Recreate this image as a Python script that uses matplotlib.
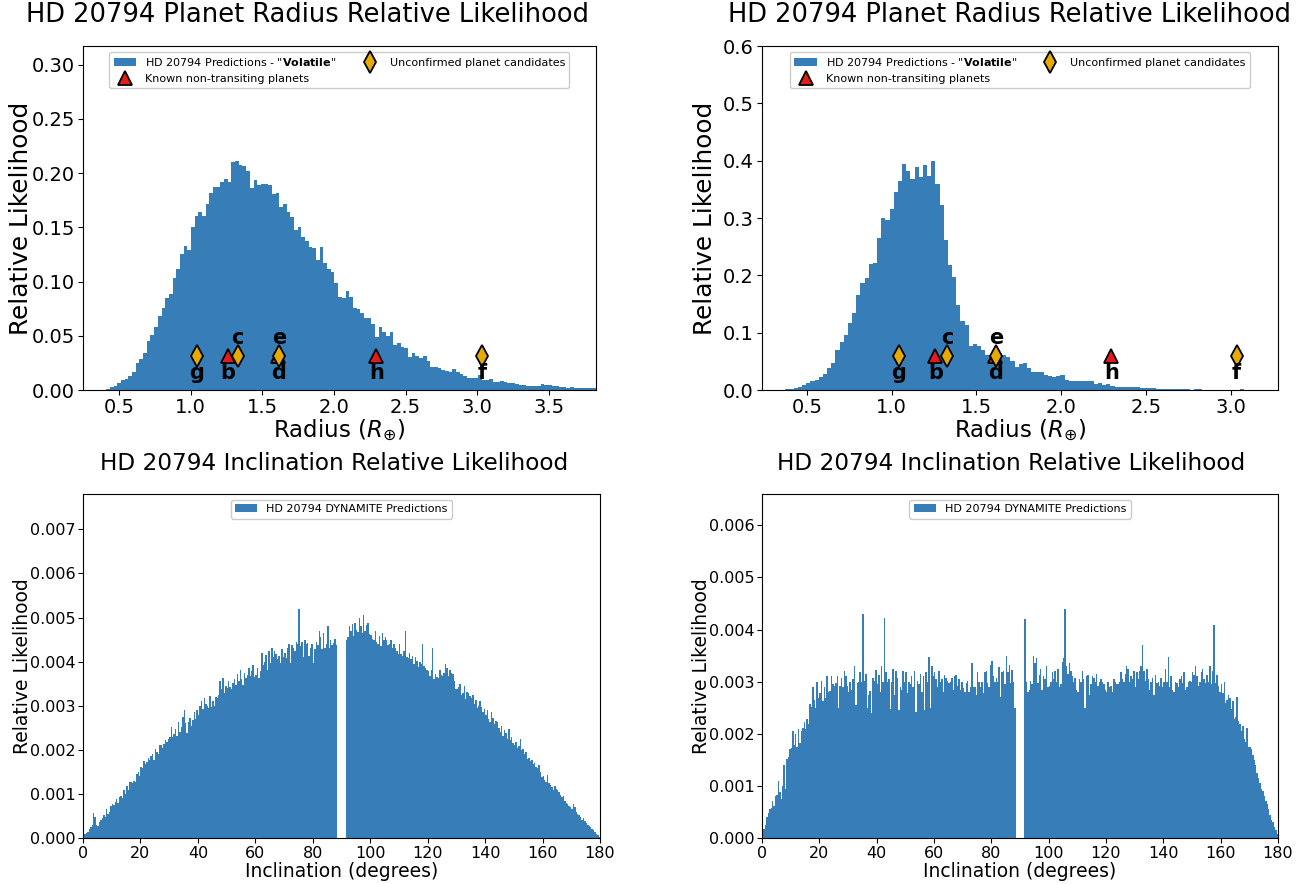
import numpy as np
import matplotlib
matplotlib.use("Agg")
import matplotlib.pyplot as plt

# ---------------- data ----------------
# Radius histogram, "Volatile" model (left panel): 134 bins
radius_left_start = 0.385
radius_left_width = 0.0257
radius_left_vals = [
    0.0004, 0.001, 0.0025, 0.004, 0.0061, 0.0092, 0.0099, 0.013, 0.017, 0.0246,
    0.029, 0.034, 0.045, 0.0507, 0.058, 0.0685, 0.0753, 0.0845, 0.089, 0.103,
    0.112, 0.125, 0.133, 0.129, 0.1506, 0.1607, 0.164, 0.1607, 0.172, 0.182,
    0.1875, 0.1875, 0.192, 0.195, 0.192, 0.2105, 0.2115, 0.2075, 0.207, 0.202,
    0.186, 0.1936, 0.189, 0.19, 0.19, 0.189, 0.181, 0.182, 0.169, 0.172,
    0.164, 0.160, 0.1475, 0.15, 0.141, 0.137, 0.1316, 0.131, 0.12, 0.132,
    0.117, 0.112, 0.109, 0.099, 0.086, 0.0845, 0.0916, 0.0855, 0.0754, 0.0744,
    0.0707, 0.0661, 0.0661, 0.0609, 0.0485, 0.0584, 0.0532, 0.0498, 0.0538, 0.0415,
    0.0436, 0.0399, 0.0384, 0.0307, 0.0338, 0.0313, 0.0292, 0.0313, 0.027, 0.0215,
    0.0215, 0.0206, 0.0184, 0.0175, 0.0169, 0.019, 0.0169, 0.0148, 0.0129, 0.0108,
    0.0108, 0.0108, 0.0138, 0.0092, 0.0092, 0.0101, 0.0077, 0.0077, 0.0086, 0.0077,
    0.0068, 0.0062, 0.006, 0.0046, 0.0046, 0.004, 0.004, 0.004, 0.0037, 0.0055,
    0.0046, 0.0043, 0.004, 0.0037, 0.0031, 0.0025, 0.0022, 0.0025, 0.0022, 0.0018,
    0.0018, 0.0015, 0.0015, 0.0015,
]

# Radius histogram (right panel): 111 bins
radius_right_start = 0.372
radius_right_width = 0.0246
radius_right_vals = [
    0.001, 0.002, 0.004, 0.006, 0.009, 0.013, 0.016, 0.018, 0.022, 0.028,
    0.038, 0.048, 0.070, 0.083, 0.096, 0.117, 0.134, 0.165, 0.186, 0.195,
    0.220, 0.222, 0.266, 0.300, 0.297, 0.316, 0.345, 0.364, 0.394, 0.382,
    0.368, 0.389, 0.372, 0.392, 0.374, 0.400, 0.359, 0.323, 0.262, 0.218,
    0.198, 0.149, 0.121, 0.113, 0.077, 0.080, 0.076, 0.069, 0.061, 0.057,
    0.064, 0.064, 0.061, 0.057, 0.051, 0.041, 0.045, 0.047, 0.038, 0.032,
    0.032, 0.032, 0.026, 0.024, 0.023, 0.024, 0.026, 0.017, 0.015, 0.016,
    0.015, 0.016, 0.015, 0.016, 0.010, 0.012, 0.009, 0.010, 0.007, 0.006,
    0.005, 0.006, 0.005, 0.006, 0.006, 0.004, 0.003, 0.0035, 0.003, 0.0023,
    0.0017, 0.0023, 0.0017, 0.0012, 0.0017, 0.0012, 0.0012, 0.0006, 0.0012, 0.0017,
    0.0006, 0.0006, 0.0006, 0.0006, 0.0, 0.0006, 0.0, 0.0006, 0.0, 0.0012,
    0.0006,
]

# Planets
known_names = ["b", "d", "h"]
known_radius = [1.258, 1.612, 2.296]
cand_names = ["g", "c", "e", "f"]
cand_radius = [1.041, 1.327, 1.618, 3.036]
labels_above = ["c", "e"]

# Inclination histograms: 0.5 degree bins, values in units of 1e-5
incl_bin_width = 0.5
incl_left_vals_e5 = [
    4, 9, 12, 14, 20, 25, 30, 56, 48, 30,
    28, 36, 42, 46, 52, 48, 65, 55, 60, 72,
    78, 74, 82, 88, 80, 92, 96, 90, 108, 100,
    118, 110, 126, 128, 125, 130, 127, 145, 150, 140,
    160, 158, 175, 168, 172, 182, 178, 186, 190, 176,
    202, 196, 190, 210, 212, 205, 214, 222, 218, 225,
    230, 252, 228, 236, 248, 232, 262, 240, 252, 275,
    290, 260, 238, 262, 272, 255, 268, 285, 270, 290,
    280, 300, 310, 292, 318, 304, 300, 295, 322, 298,
    310, 300, 320, 318, 325, 355, 338, 362, 330, 345,
    340, 355, 342, 338, 352, 360, 348, 372, 356, 380,
    360, 348, 375, 362, 370, 385, 368, 378, 392, 365,
    370, 385, 362, 378, 420, 392, 400, 415, 382, 425,
    398, 430, 410, 425, 418, 405, 412, 398, 428, 410,
    420, 408, 432, 440, 398, 438, 430, 425, 445, 440,
    520, 435, 445, 410, 448, 440, 442, 412, 432, 440,
    398, 428, 445, 438, 470, 455, 428, 465, 432, 440,
    480, 430, 450, 438, 442, 452, 438,
    0, 0, 0, 0, 0, 0,
    448, 455, 480, 470, 485, 458, 488,
    472, 468, 500, 480, 465, 505, 470, 482, 488, 462,
    460, 452, 448, 470, 445, 440, 458, 435, 465, 448,
    455, 448, 438, 440, 450, 432, 440, 430, 425, 418,
    440, 418, 412, 425, 470, 410, 408, 420, 405, 412,
    395, 410, 402, 388, 400, 395, 440, 390, 385, 380,
    378, 368, 380, 432, 360, 372, 365, 362, 382, 370,
    368, 375, 395, 385, 368, 380, 375, 372, 355, 338,
    338, 342, 350, 325, 328, 345, 315, 332, 328, 322,
    318, 325, 305, 312, 295, 300, 310, 298, 286, 292,
    280, 290, 270, 262, 285, 272, 258, 265, 262, 250,
    240, 255, 232, 245, 238, 225, 248, 222, 228, 215,
    212, 218, 205, 208, 225, 200, 202, 190, 195, 180,
    182, 175, 178, 168, 170, 162, 158, 165, 150, 138,
    140, 132, 128, 142, 125, 120, 115, 110, 118, 112,
    108, 105, 98, 92, 95, 85, 80, 78, 72, 70,
    65, 78, 70, 58, 55, 52, 48, 42, 45, 38,
    35, 30, 28, 25, 20, 18, 14, 10, 6, 3,
]
incl_right_vals_e5 = [
    5, 18, 25, 40, 48, 55, 58, 72, 62, 80,
    82, 110, 88, 75, 100, 140, 95, 152, 155, 170,
    172, 205, 178, 200, 175, 210, 182, 205, 212, 222,
    210, 228, 218, 258, 252, 290, 265, 250, 300, 268,
    278, 302, 262, 290, 268, 310, 280, 282, 310, 295,
    292, 298, 310, 250, 292, 308, 290, 320, 310, 292,
    280, 300, 285, 305, 330, 255, 298, 300, 318, 300,
    430, 302, 315, 250, 275, 282, 240, 308, 302, 322,
    296, 312, 280, 330, 300, 422, 318, 300, 305, 248,
    300, 325, 275, 320, 308, 245, 290, 285, 320, 300,
    318, 278, 300, 295, 310, 290, 320, 242, 302, 295,
    315, 280, 310, 245, 318, 300, 348, 250, 330, 310,
    318, 305, 290, 320, 300, 305, 280, 312, 308, 302,
    298, 300, 308, 285, 310, 312, 292, 305, 285, 300,
    288, 280, 298, 302, 280, 290, 335, 290, 290, 275,
    318, 300, 290, 300, 278, 318, 320, 298, 290, 332,
    340, 310, 300, 308, 300, 328, 270, 318, 320, 295,
    350, 318, 332, 298, 322, 300, 250,
    0, 0, 0, 0, 0, 0,
    420, 300, 280, 285, 302, 295, 350,
    335, 345, 298, 312, 325, 285, 310, 305, 330, 290,
    292, 300, 318, 305, 320, 300, 325, 290, 295, 338,
    345, 440, 330, 315, 335, 320, 310, 300, 308, 285,
    280, 305, 300, 320, 305, 250, 310, 312, 275, 295,
    310, 308, 300, 315, 292, 300, 305, 300, 295, 285,
    280, 300, 290, 292, 280, 305, 300, 295, 295, 300,
    318, 305, 300, 315, 330, 325, 300, 310, 305, 320,
    290, 318, 305, 320, 330, 370, 320, 302, 325, 305,
    285, 300, 308, 275, 312, 298, 300, 292, 308, 290,
    300, 325, 300, 348, 290, 310, 285, 280, 300, 298,
    290, 305, 310, 298, 318, 285, 290, 300, 302, 300,
    318, 312, 330, 310, 292, 300, 318, 325, 305, 298,
    312, 300, 330, 295, 320, 408, 298, 312, 292, 280,
    295, 278, 300, 260, 265, 275, 268, 248, 262, 228,
    232, 270, 225, 218, 205, 215, 190, 185, 212, 175,
    175, 170, 160, 150, 140, 125, 115, 105, 95, 90,
    80, 72, 65, 55, 45, 35, 30, 22, 15, 8,
]

# ---------------- style ----------------
HIST_COLOR = "#377eb8"
RED = "#e41a1c"
GOLD = "#e6ab02"

fig = plt.figure(figsize=(13.07, 8.84), dpi=100)
ax_tl = fig.add_axes([0.0635, 0.5588, 0.3925, 0.3891])
ax_tr = fig.add_axes([0.5830, 0.5588, 0.3948, 0.3891])
ax_bl = fig.add_axes([0.0635, 0.0520, 0.3956, 0.3891])
ax_br = fig.add_axes([0.5830, 0.0520, 0.3948, 0.3891])


def draw_radius(ax, start, width, vals, xlim, title_x, ylab_x):
    vals = np.asarray(vals)
    edges = start + width * np.arange(len(vals) + 1)
    ax.hist(edges[:-1], bins=edges, weights=vals, color=HIST_COLOR,
            label=r'HD 20794 Predictions - "$\bf{Volatile}$"')
    ymax = vals.max()
    ymark = 0.15 * ymax
    ax.plot(known_radius, [ymark] * len(known_radius), ls="none", marker="^",
            ms=10, mfc=RED, mec="black", mew=1.3,
            label="Known non-transiting planets")
    ax.plot(cand_radius, [ymark] * len(cand_radius), ls="none", marker="d",
            ms=11, mfc=GOLD, mec="black", mew=1.3,
            label="Unconfirmed planet candidates")
    for name, r in list(zip(known_names, known_radius)) + list(zip(cand_names, cand_radius)):
        dy = 12.5 if name in labels_above else -12.5
        ax.annotate(name, (r, ymark), xytext=(0, dy), textcoords="offset points",
                    ha="center", va="center", fontsize=15, fontweight="bold")
    ax.set_ylim(0, 1.5 * ymax)
    ax.set_xlim(*xlim)
    ax.set_title("HD 20794 Planet Radius Relative Likelihood", fontsize=18.5,
                 pad=17, x=title_x)
    ax.set_xlabel(r"Radius ($R_{\oplus}$)", fontsize=16.5, labelpad=0)
    ax.set_ylabel("Relative Likelihood", fontsize=17.8)
    ax.yaxis.set_label_coords(ylab_x, 0.5)
    ax.tick_params(labelsize=14, pad=2.5)
    ax.legend(loc="upper center", ncol=2, fontsize=8, framealpha=1,
              borderaxespad=0.5, columnspacing=2.0)


def draw_incl(ax, vals_e5, title_x, ylab_x):
    vals = np.asarray(vals_e5) * 1e-5
    edges = incl_bin_width * np.arange(len(vals) + 1)
    ax.hist(edges[:-1], bins=edges, weights=vals, color=HIST_COLOR,
            label="HD 20794 DYNAMITE Predictions")
    ax.set_xlim(0, 180)
    ax.set_ylim(0, 1.5 * vals.max())
    ax.set_title("HD 20794 Inclination Relative Likelihood", fontsize=16.7,
                 pad=17, x=title_x)
    ax.set_xlabel("Inclination (degrees)", fontsize=13.5, labelpad=1)
    ax.set_ylabel("Relative Likelihood", fontsize=13.5)
    ax.yaxis.set_label_coords(ylab_x, 0.5)
    ax.set_xticks(np.arange(0, 181, 20))
    ax.tick_params(labelsize=11.5, pad=2)
    ax.legend(loc="upper center", fontsize=8, framealpha=1, borderaxespad=0.5)


draw_radius(ax_tl, radius_left_start, radius_left_width, radius_left_vals,
            (0.248, 3.83), 0.437, -0.098)
draw_radius(ax_tr, radius_right_start, radius_right_width, radius_right_vals,
            (0.234, 3.28), 0.48, -0.087)
draw_incl(ax_bl, incl_left_vals_e5, 0.486, -0.098)
draw_incl(ax_br, incl_right_vals_e5, 0.4826, -0.098)

fig.savefig("out.png", dpi=100)
